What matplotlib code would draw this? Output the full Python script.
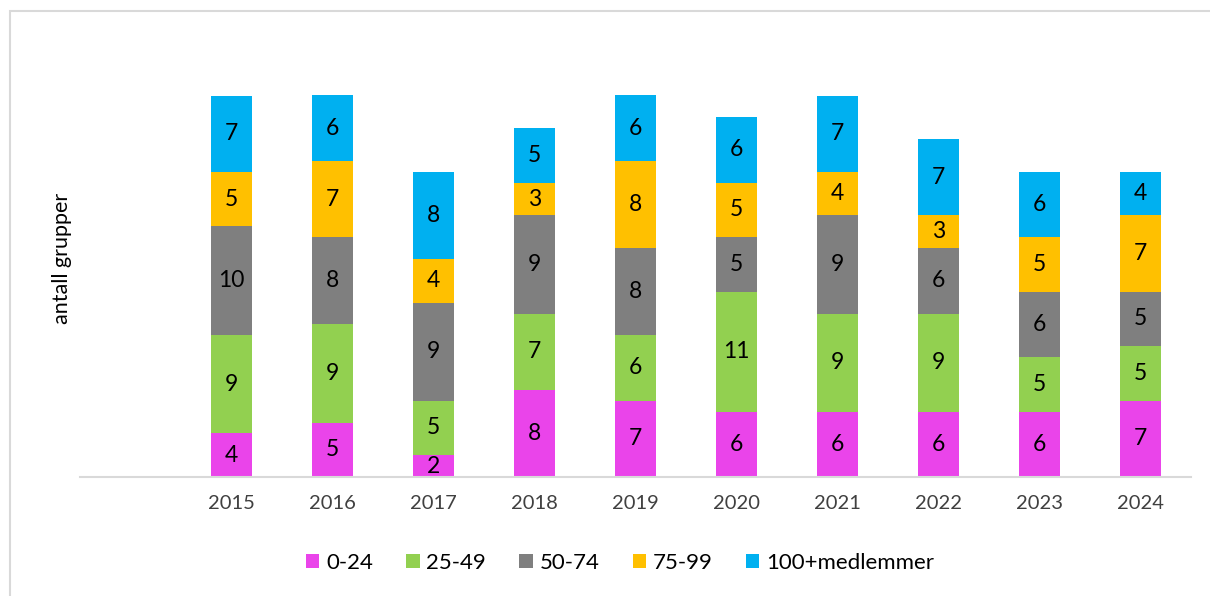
import numpy as np
import matplotlib.pyplot as plt
from matplotlib.patches import Rectangle

years = ["2015", "2016", "2017", "2018", "2019", "2020", "2021", "2022", "2023", "2024"]
series_names = ["0-24", "25-49", "50-74", "75-99", "100+medlemmer"]
g_0_24 = [4, 5, 2, 8, 7, 6, 6, 6, 6, 7]
g_25_49 = [9, 9, 5, 7, 6, 11, 9, 9, 5, 5]
g_50_74 = [10, 8, 9, 9, 8, 5, 9, 6, 6, 5]
g_75_99 = [5, 7, 4, 3, 8, 5, 4, 3, 5, 7]
g_100 = [7, 6, 8, 5, 6, 6, 7, 7, 6, 4]
colors = ["#EA44EA", "#92D050", "#7F7F7F", "#FFC000", "#00B0F0"]

plt.rcParams["font.family"] = ["Lato", "DejaVu Sans"]

W, H = 1210, 596
fig = plt.figure(figsize=(W / 100, H / 100), dpi=100)

# outer chart frame (light gray)
fig.patches.append(Rectangle((10 / W, -0.1), 1.1, (H - 11) / H + 0.1, transform=fig.transFigure,
                             fill=False, edgecolor="#D9D9D9", linewidth=1.5))

left, right, bottom, top = 80, 1191, 477, 41
ax = fig.add_axes([left / W, 1 - bottom / H, (right - left) / W, (bottom - top) / H])

x = np.arange(len(years))
base = np.zeros(len(years))
for name, vals, c in zip(series_names, [g_0_24, g_25_49, g_50_74, g_75_99, g_100], colors):
    vals = np.array(vals)
    ax.bar(x, vals, width=0.4, bottom=base, color=c, label=name)
    for xi, b, v in zip(x, base, vals):
        ax.text(xi, b + v / 2, str(v), ha="center", va="center", fontsize=16.5, color="black")
    base = base + vals

ax.set_xlim(-1.5, 9.5)
ax.set_ylim(0, 40)
ax.set_xticks(x)
ax.set_xticklabels(years, fontsize=14.5, color="#404040")
ax.tick_params(axis="x", length=0, pad=13)
ax.set_yticks([])
for s in ["left", "right", "top"]:
    ax.spines[s].set_visible(False)
ax.spines["bottom"].set_color("#D9D9D9")
ax.spines["bottom"].set_linewidth(1.5)

fig.text(62 / W, 1 - 258 / H, "antall grupper", rotation=90, ha="center", va="center",
         fontsize=15.5, color="black")

fig.legend(loc="center", bbox_to_anchor=(620 / W, 1 - 563 / H), ncol=5, frameon=False,
           fontsize=16, handlelength=0.6, handleheight=0.6, handletextpad=0.3, columnspacing=1.5)

fig.savefig("out.png", dpi=100)
